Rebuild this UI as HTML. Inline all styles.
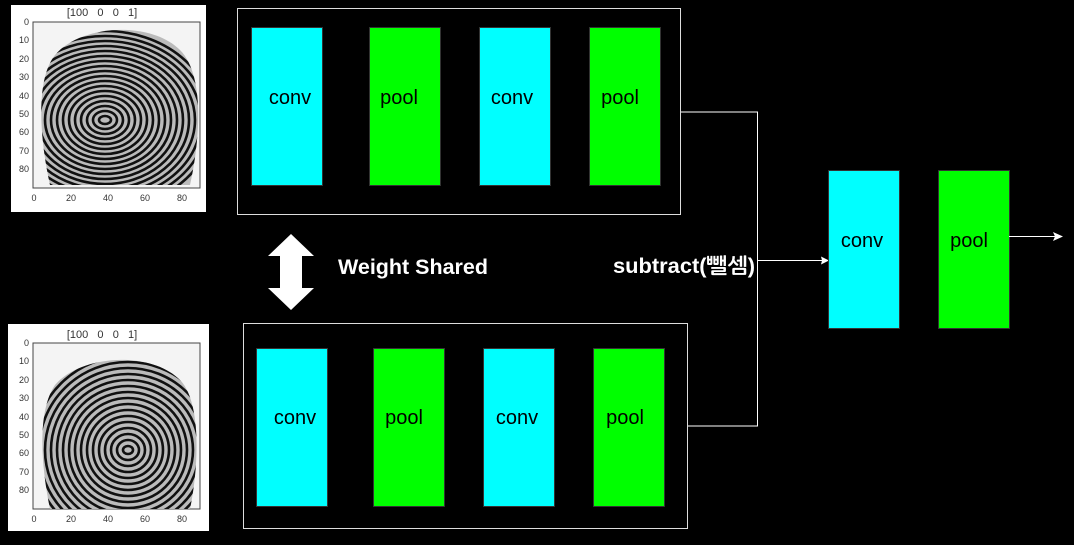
<!DOCTYPE html>
<html><head><meta charset="utf-8"><style>
html,body{margin:0;padding:0;background:#000;}
svg{display:block;}
text{font-family:"Liberation Sans","NanumGothic",sans-serif;white-space:pre;}
</style></head><body>
<svg width="1074" height="545" viewBox="0 0 1074 545" xmlns="http://www.w3.org/2000/svg">
<defs>
<clipPath id="fp1"><path d="M50,185 C40,140 35,80 55,55 C80,25 150,20 180,50 C205,75 200,140 190,185 Z"/></clipPath>
<clipPath id="fp2"><path d="M50,509 C40,460 38,410 55,385 C80,355 150,350 180,380 C200,400 200,460 190,509 Z"/></clipPath>
</defs>
<rect width="1074" height="545" fill="#000"/>

<!-- top fingerprint panel -->
<rect x="11" y="5" width="195" height="207" fill="#fff"/>
<text x="102" y="16" font-size="11" fill="#333" text-anchor="middle">[100   0   0   1]</text>
<rect x="33" y="22" width="167" height="166" fill="#f4f4f4" stroke="#444" stroke-width="1"/>
<g clip-path="url(#fp1)" fill="none" stroke="#111" stroke-width="2.6">
<rect x="33" y="22" width="167" height="166" fill="#bbb" stroke="none"/>
<ellipse cx="105" cy="120" rx="6" ry="4"/><ellipse cx="105" cy="120" rx="12" ry="9"/><ellipse cx="105" cy="120" rx="18" ry="14"/><ellipse cx="105" cy="120" rx="24" ry="19"/><ellipse cx="105" cy="120" rx="30" ry="24"/><ellipse cx="105" cy="120" rx="36" ry="29"/><ellipse cx="105" cy="120" rx="42" ry="34"/><ellipse cx="105" cy="120" rx="48" ry="39"/><ellipse cx="105" cy="120" rx="54" ry="44"/><ellipse cx="105" cy="120" rx="60" ry="49"/><ellipse cx="105" cy="120" rx="66" ry="54"/><ellipse cx="105" cy="120" rx="72" ry="59"/><ellipse cx="105" cy="120" rx="78" ry="64"/><ellipse cx="105" cy="120" rx="84" ry="69"/><ellipse cx="105" cy="120" rx="90" ry="74"/><ellipse cx="105" cy="120" rx="96" ry="79"/><ellipse cx="105" cy="120" rx="102" ry="84"/><ellipse cx="105" cy="120" rx="108" ry="89"/>
</g>
<g font-size="9" fill="#333" text-anchor="end">
<text x="29" y="25">0</text><text x="29" y="43">10</text><text x="29" y="62">20</text><text x="29" y="80">30</text><text x="29" y="99">40</text><text x="29" y="117">50</text><text x="29" y="135">60</text><text x="29" y="154">70</text><text x="29" y="172">80</text>
</g>
<g font-size="9" fill="#333" text-anchor="middle">
<text x="34" y="201">0</text><text x="71" y="201">20</text><text x="108" y="201">40</text><text x="145" y="201">60</text><text x="182" y="201">80</text>
</g>

<!-- bottom fingerprint panel -->
<rect x="8" y="324" width="201" height="207" fill="#fff"/>
<text x="102" y="338" font-size="11" fill="#333" text-anchor="middle">[100   0   0   1]</text>
<rect x="33" y="343" width="167" height="166" fill="#f4f4f4" stroke="#444" stroke-width="1"/>
<g clip-path="url(#fp2)" fill="none" stroke="#111" stroke-width="2.6">
<rect x="33" y="343" width="167" height="166" fill="#bbb" stroke="none"/>
<ellipse cx="128" cy="450" rx="5" ry="4"/><ellipse cx="128" cy="450" rx="11" ry="10"/><ellipse cx="128" cy="450" rx="17" ry="16"/><ellipse cx="128" cy="450" rx="23" ry="22"/><ellipse cx="128" cy="450" rx="29" ry="28"/><ellipse cx="128" cy="450" rx="35" ry="34"/><ellipse cx="128" cy="450" rx="41" ry="40"/><ellipse cx="128" cy="450" rx="47" ry="46"/><ellipse cx="128" cy="450" rx="53" ry="52"/><ellipse cx="128" cy="450" rx="59" ry="58"/><ellipse cx="128" cy="450" rx="65" ry="64"/><ellipse cx="128" cy="450" rx="71" ry="70"/><ellipse cx="128" cy="450" rx="77" ry="76"/><ellipse cx="128" cy="450" rx="83" ry="82"/><ellipse cx="128" cy="450" rx="89" ry="88"/><ellipse cx="128" cy="450" rx="95" ry="94"/><ellipse cx="128" cy="450" rx="101" ry="100"/><ellipse cx="128" cy="450" rx="107" ry="106"/>
</g>
<g font-size="9" fill="#333" text-anchor="end">
<text x="29" y="346">0</text><text x="29" y="364">10</text><text x="29" y="383">20</text><text x="29" y="401">30</text><text x="29" y="420">40</text><text x="29" y="438">50</text><text x="29" y="456">60</text><text x="29" y="475">70</text><text x="29" y="493">80</text>
</g>
<g font-size="9" fill="#333" text-anchor="middle">
<text x="34" y="522">0</text><text x="71" y="522">20</text><text x="108" y="522">40</text><text x="145" y="522">60</text><text x="182" y="522">80</text>
</g>

<!-- top group -->
<rect x="237.5" y="8.5" width="443" height="206" fill="none" stroke="#ddd" stroke-width="1"/>
<g stroke="#333" stroke-width="1">
<rect x="251.5" y="27.5" width="71" height="158" fill="#00ffff"/>
<rect x="369.5" y="27.5" width="71" height="158" fill="#00ff00"/>
<rect x="479.5" y="27.5" width="71" height="158" fill="#00ffff"/>
<rect x="589.5" y="27.5" width="71" height="158" fill="#00ff00"/>
</g>
<g font-size="20" fill="#000" text-anchor="middle">
<text x="290" y="104">conv</text><text x="399" y="104">pool</text><text x="512" y="104">conv</text><text x="620" y="104">pool</text>
</g>

<!-- bottom group -->
<rect x="243.5" y="323.5" width="444" height="205" fill="none" stroke="#ddd" stroke-width="1"/>
<g stroke="#333" stroke-width="1">
<rect x="256.5" y="348.5" width="71" height="158" fill="#00ffff"/>
<rect x="373.5" y="348.5" width="71" height="158" fill="#00ff00"/>
<rect x="483.5" y="348.5" width="71" height="158" fill="#00ffff"/>
<rect x="593.5" y="348.5" width="71" height="158" fill="#00ff00"/>
</g>
<g font-size="20" fill="#000" text-anchor="middle">
<text x="295" y="424">conv</text><text x="404" y="424">pool</text><text x="517" y="424">conv</text><text x="625" y="424">pool</text>
</g>

<!-- double arrow -->
<polygon points="291,234 314,256 302,256 302,288 314,288 291,310 268,288 280,288 280,256 268,256" fill="#fff"/>
<text x="338" y="274" font-size="21" font-weight="bold" fill="#fff" textLength="150" lengthAdjust="spacingAndGlyphs">Weight Shared</text>

<!-- connectors -->
<polyline points="681,112 757.5,112 757.5,426 688,426" fill="none" stroke="#fff" stroke-width="1"/>
<line x1="757" y1="260.5" x2="822" y2="260.5" stroke="#fff" stroke-width="1"/>
<polygon points="829,260.5 821,256.5 822,260.5 821,264.5" fill="#fff"/>
<text x="613" y="273" font-size="21" font-weight="bold" fill="#fff" textLength="142" lengthAdjust="spacingAndGlyphs">subtract(뺄셈)</text>

<!-- right group -->
<g stroke="#333" stroke-width="1">
<rect x="828.5" y="170.5" width="71" height="158" fill="#00ffff"/>
<rect x="938.5" y="170.5" width="71" height="158" fill="#00ff00"/>
</g>
<g font-size="20" fill="#000" text-anchor="middle">
<text x="862" y="247">conv</text><text x="969" y="247">pool</text>
</g>
<line x1="1009" y1="236.5" x2="1055" y2="236.5" stroke="#fff" stroke-width="1"/>
<polygon points="1063,236.5 1053,232 1055,236.5 1053,241" fill="#fff"/>
</svg>
</body></html>
